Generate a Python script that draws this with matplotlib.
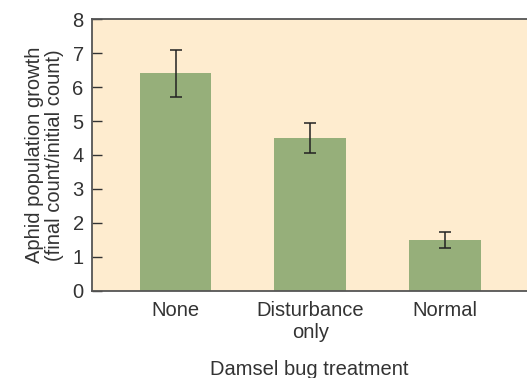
import matplotlib.pyplot as plt
import numpy as np

plt.rcParams['font.family'] = ['Liberation Sans', 'DejaVu Sans']

treatments = ['None', 'Disturbance\nonly', 'Normal']
growth = [6.4, 4.5, 1.5]
errors = [0.69, 0.45, 0.23]

fig = plt.figure(figsize=(5.27, 3.78), dpi=100)
ax = fig.add_axes([0.1746, 0.2302, 0.8254, 0.7195])
ax.set_facecolor('#feeccf')

x = np.arange(len(treatments))
ax.bar(x, growth, width=0.53, color='#96af7a')
ax.errorbar(x, growth, yerr=errors, fmt='none', ecolor='#222222',
            elinewidth=1.1, capsize=4, capthick=1.1)

ax.set_xlim(-0.62, 2.61)
ax.set_ylim(0, 8)
ax.set_yticks(range(0, 9))
ax.set_xticks(x)
ax.set_xticklabels(treatments, fontsize=14.5, color='#333333', linespacing=1.2)
ax.tick_params(axis='y', direction='in', length=7, width=1, colors='#333333',
               labelsize=14.5, pad=6)
ax.tick_params(axis='x', length=0, pad=7)

for s in ['left', 'bottom', 'top']:
    ax.spines[s].set_color('#555555')
    ax.spines[s].set_linewidth(1.3)
ax.spines['right'].set_visible(False)

ax.set_ylabel('Aphid population growth\n(final count/initial count)',
              fontsize=14.5, color='#333333', linespacing=1.1, labelpad=6)
ax.set_xlabel('Damsel bug treatment', fontsize=14.5, color='#333333',
              va='center')
ax.xaxis.set_label_coords(0.5, -0.29)

fig.savefig('out.png', dpi=100)
